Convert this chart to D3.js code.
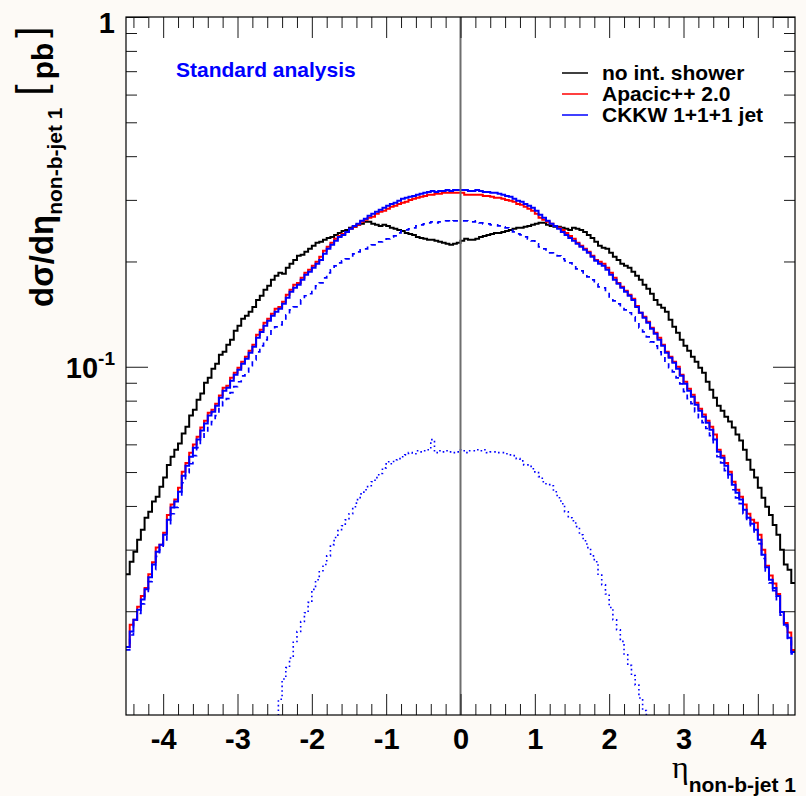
<!DOCTYPE html>
<html lang="en">
<head>
<meta charset="UTF-8">
<title>d&sigma;/d&eta; non-b-jet 1</title>
<script src="https://d3js.org/d3.v7.min.js"></script>
<style>
  body { margin: 0; background: #fdfaf6; }
  svg { display: block; font-family: "Liberation Sans", Arial, sans-serif; }
</style>
</head>
<body>
<script>
// 180 bins of width 0.05 between -4.5 and 4.5, values in pb
const etaMin = -4.5, etaMax = 4.5, binWidth = 0.05;
const yMin = 0.0101, yMax = 1;

const noShower = [
  .0255,.0277,.0296,.0320,.0342,.0370,.0385,.0412,.0425,.0454,
  .0482,.0524,.0553,.0579,.0603,.0644,.0674,.0725,.0754,.0805,
  .0838,.0900,.0930,.0987,.1020,.1082,.1103,.1155,.1194,.1267,
  .1309,.1372,.1399,.1436,.1483,.1553,.1596,.1660,.1704,.1772,
  .1820,.1856,.1844,.1918,.1969,.2021,.2076,.2089,.2131,.2174,
  .2217,.2261,.2276,.2306,.2336,.2351,.2382,.2414,.2446,.2462,
  .2496,.2512,.2545,.2562,.2596,.2596,.2562,.2545,.2528,.2545,
  .2528,.2496,.2479,.2462,.2446,.2414,.2398,.2382,.2351,.2336,
  .2321,.2306,.2306,.2291,.2276,.2261,.2246,.2232,.2246,.2261,
  .2291,.2321,.2306,.2306,.2321,.2351,.2367,.2382,.2398,.2414,
  .2414,.2430,.2446,.2462,.2479,.2496,.2496,.2512,.2528,.2545,
  .2562,.2579,.2579,.2545,.2528,.2512,.2512,.2496,.2479,.2462,
  .2496,.2479,.2462,.2430,.2382,.2336,.2276,.2217,.2188,.2174,
  .2117,.2062,.2021,.1969,.1943,.1918,.1868,.1820,.1772,.1715,
  .1670,.1617,.1553,.1503,.1474,.1436,.1362,.1301,.1250,.1194,
  .1148,.1111,.1068,.1033,.0994,.0961,.0906,.0860,.0816,.0774,
  .0749,.0720,.0697,.0670,.0640,.0615,.0579,.0542,.0508,.0482,
  .0451,.0422,.0398,.0377,.0353,.0331,.0300,.0272,.0263,.0241
];

const apacic = [
  .0158,.0183,.0189,.0206,.0221,.0233,.0255,.0276,.0304,.0310,
  .0335,.0377,.0404,.0417,.0451,.0501,.0531,.0568,.0599,.0631,
  .0670,.0701,.0739,.0754,.0784,.0827,.0871,.0883,.0930,.0961,
  .0994,.1033,.1068,.1111,.1155,.1234,.1275,.1335,.1372,.1417,
  .1464,.1483,.1533,.1606,.1660,.1715,.1737,.1796,.1856,.1893,
  .1943,.1995,.2062,.2145,.2202,.2261,.2321,.2367,.2398,.2430,
  .2479,.2512,.2545,.2596,.2630,.2666,.2684,.2737,.2773,.2792,
  .2828,.2865,.2884,.2922,.2942,.2961,.3000,.3020,.3040,.3060,
  .3080,.3101,.3101,.3121,.3121,.3142,.3142,.3142,.3142,.3142,
  .3142,.3101,.3101,.3101,.3101,.3101,.3080,.3080,.3060,.3040,
  .3040,.3020,.3000,.2981,.2961,.2922,.2903,.2865,.2828,.2792,
  .2737,.2666,.2630,.2596,.2562,.2528,.2496,.2462,.2414,.2367,
  .2321,.2261,.2217,.2174,.2131,.2076,.2021,.1995,.1969,.1918,
  .1856,.1796,.1737,.1692,.1649,.1606,.1565,.1493,.1427,.1390,
  .1344,.1292,.1250,.1210,.1155,.1103,.1068,.1033,.1000,.0948,
  .0906,.0865,.0832,.0789,.0759,.0730,.0701,.0674,.0640,.0579,
  .0557,.0531,.0501,.0469,.0445,.0425,.0404,.0380,.0365,.0358,
  .0331,.0300,.0270,.0253,.0240,.0224,.0199,.0185,.0174,.0155
];

const ckkw = [
  .0158,.0175,.0189,.0202,.0216,.0231,.0250,.0272,.0296,.0310,
  .0331,.0365,.0396,.0412,.0439,.0488,.0521,.0553,.0587,.0619,
  .0657,.0688,.0725,.0744,.0774,.0816,.0854,.0871,.0912,.0948,
  .0980,.1020,.1054,.1096,.1140,.1210,.1258,.1309,.1353,.1399,
  .1436,.1464,.1513,.1575,.1638,.1681,.1715,.1772,.1832,.1868,
  .1918,.1969,.2021,.2103,.2174,.2232,.2291,.2351,.2382,.2430,
  .2479,.2528,.2562,.2613,.2649,.2702,.2737,.2773,.2810,.2847,
  .2884,.2922,.2942,.2981,.3020,.3040,.3060,.3080,.3101,.3121,
  .3142,.3162,.3183,.3162,.3183,.3183,.3204,.3183,.3204,.3204,
  .3204,.3204,.3183,.3183,.3204,.3183,.3162,.3162,.3142,.3142,
  .3121,.3101,.3080,.3060,.3020,.2981,.2961,.2922,.2884,.2847,
  .2792,.2719,.2666,.2613,.2562,.2528,.2479,.2430,.2382,.2336,
  .2291,.2246,.2202,.2159,.2117,.2062,.2008,.1969,.1943,.1893,
  .1832,.1772,.1726,.1681,.1638,.1596,.1553,.1483,.1427,.1381,
  .1335,.1284,.1242,.1194,.1148,.1096,.1061,.1027,.0987,.0942,
  .0894,.0854,.0821,.0779,.0749,.0720,.0692,.0661,.0619,.0571,
  .0549,.0521,.0492,.0460,.0436,.0417,.0390,.0370,.0356,.0342,
  .0320,.0290,.0267,.0246,.0233,.0221,.0199,.0183,.0168,.0153
];

// CKKW parts: dashed and dotted contributions
const ckkwDashed = [
  .0155,.0171,.0185,.0197,.0210,.0225,.0243,.0263,.0287,.0300,
  .0320,.0353,.0380,.0396,.0422,.0466,.0498,.0528,.0557,.0587,
  .0623,.0648,.0683,.0697,.0725,.0764,.0795,.0811,.0843,.0877,
  .0906,.0942,.0967,.1007,.1047,.1103,.1148,.1194,.1226,.1267,
  .1301,.1318,.1353,.1408,.1455,.1483,.1503,.1553,.1596,.1617,
  .1660,.1704,.1737,.1796,.1856,.1893,.1943,.1982,.2008,.2035,
  .2076,.2103,.2131,.2159,.2174,.2217,.2232,.2261,.2276,.2291,
  .2321,.2351,.2367,.2414,.2446,.2462,.2479,.2496,.2528,.2545,
  .2562,.2579,.2596,.2579,.2596,.2596,.2613,.2596,.2613,.2613,
  .2613,.2613,.2596,.2596,.2613,.2579,.2562,.2562,.2545,.2545,
  .2528,.2512,.2496,.2479,.2430,.2398,.2382,.2351,.2321,.2291,
  .2246,.2202,.2174,.2145,.2117,.2103,.2076,.2035,.2008,.1982,
  .1943,.1905,.1881,.1844,.1808,.1772,.1726,.1692,.1681,.1638,
  .1585,.1543,.1513,.1483,.1455,.1427,.1390,.1335,.1292,.1258,
  .1218,.1178,.1148,.1103,.1068,.1027,.0994,.0967,.0930,.0894,
  .0849,.0811,.0784,.0744,.0715,.0692,.0666,.0635,.0599,.0553,
  .0531,.0505,.0475,.0445,.0422,.0406,.0380,.0360,.0346,.0333,
  .0312,.0283,.0261,.0241,.0229,.0216,.0195,.0181,.0166,.0151
];

// dotted part only filled from bin 40 (eta -2.5) to bin 140 (eta 2.55)
const dottedFirstBin = 40;
const ckkwDotted = [
  .0097,.0112,.0128,.0138,.0147,.0163,.0175,.0187,.0198,.0212,
  .0231,.0246,.0261,.0272,.0288,.0310,.0325,.0340,.0351,.0365,
  .0380,.0398,.0417,.0433,.0445,.0457,.0469,.0482,.0495,.0514,
  .0535,.0528,.0542,.0546,.0553,.0560,.0568,.0564,.0575,.0571,
  .0575,.0579,.0619,.0568,.0575,.0571,.0575,.0571,.0568,.0571,
  .0579,.0568,.0575,.0575,.0579,.0575,.0579,.0568,.0571,.0571,
  .0568,.0568,.0564,.0560,.0557,.0546,.0538,.0524,.0524,.0511,
  .0498,.0485,.0469,.0463,.0457,.0439,.0422,.0406,.0385,.0370,
  .0363,.0349,.0331,.0318,.0304,.0288,.0277,.0255,.0238,.0224,
  .0205,.0189,.0177,.0164,.0150,.0140,.0131,.0123,.0113,.0104,
  .0097
];

const legendLabels = ["no int. shower", "Apacic++ 2.0", "CKKW 1+1+1 jet"];
const xMajorTicks = [-4, -3, -2, -1, 0, 1, 2, 3, 4];
const yMajorTicks = [1, 0.1];

const W = 806, H = 796;
const margin = {top: 17, right: 11, bottom: 81, left: 126};
const w = W - margin.left - margin.right;
const h = H - margin.top - margin.bottom;

const svg = d3.select("body").append("svg").attr("width", W).attr("height", H);
svg.append("rect").attr("width", W).attr("height", H).attr("fill", "#fdfaf6");

const g = svg.append("g").attr("transform", `translate(${margin.left},${margin.top})`);
g.append("rect").attr("width", w).attr("height", h).attr("fill", "#fff");

const x = d3.scaleLinear().domain([etaMin, etaMax]).range([0, w]);
const y = d3.scaleLog().domain([yMin, yMax]).range([h, 0]);

g.append("clipPath").attr("id", "plotclip")
  .append("rect").attr("width", w).attr("height", h);

// histograms
const stepLine = d3.line()
  .x(d => x(d[0]))
  .y(d => y(d[1]))
  .curve(d3.curveStepAfter);

function histPoints(values, firstBin) {
  const pts = values.map((v, i) => [etaMin + (firstBin + i) * binWidth, v]);
  pts.push([etaMin + (firstBin + values.length) * binWidth, values[values.length - 1]]);
  return pts;
}

const series = [
  {values: noShower, first: 0, color: "#000000", width: 2, dash: null},
  {values: apacic, first: 0, color: "#ff0000", width: 2, dash: null},
  {values: ckkw, first: 0, color: "#0000ff", width: 2, dash: null},
  {values: ckkwDashed, first: 0, color: "#0000ff", width: 1.7, dash: "5,5"},
  {values: ckkwDotted, first: dottedFirstBin, color: "#0000ff", width: 1.6, dash: "1.6,3"}
];

const plot = g.append("g").attr("clip-path", "url(#plotclip)");
plot.selectAll("path.hist")
  .data(series)
  .join("path")
  .attr("class", "hist")
  .attr("d", d => stepLine(histPoints(d.values, d.first)))
  .attr("fill", "none")
  .attr("stroke", d => d.color)
  .attr("stroke-width", d => d.width)
  .attr("stroke-dasharray", d => d.dash);

// vertical line at eta = 0
g.append("line")
  .attr("x1", x(0)).attr("x2", x(0))
  .attr("y1", 0).attr("y2", h)
  .attr("stroke", "#6e6e6e")
  .attr("stroke-width", 2);

// axes (ROOT style: ticks inside on all four sides)
const xMinorTicks = d3.range(-44, 45, 2).map(d => d / 10).filter(d => !Number.isInteger(d));
const yMinorTicks = [];
[0.01, 0.1].forEach(dec => d3.range(2, 10).forEach(k => yMinorTicks.push(dec * k)));

function cleanAxis(sel) {
  sel.select(".domain").remove();
  sel.selectAll("line").attr("stroke", "#1a1a1a");
}

g.append("g").attr("transform", `translate(0,${h})`)
  .call(d3.axisBottom(x).tickValues(xMajorTicks).tickSize(-21).tickPadding(13).tickFormat(d => String(d)))
  .call(cleanAxis)
  .attr("font-family", "Liberation Sans, Arial, sans-serif")
  .attr("font-size", 29)
  .attr("font-weight", "bold")
  .selectAll("text").attr("fill", "#000");
g.append("g").attr("transform", `translate(0,${h})`)
  .call(d3.axisBottom(x).tickValues(xMinorTicks).tickSize(-11).tickFormat(""))
  .call(cleanAxis);
g.append("g")
  .call(d3.axisTop(x).tickValues(xMajorTicks).tickSize(-21).tickFormat(""))
  .call(cleanAxis);
g.append("g")
  .call(d3.axisTop(x).tickValues(xMinorTicks).tickSize(-11).tickFormat(""))
  .call(cleanAxis);

g.append("g")
  .call(d3.axisLeft(y).tickValues(yMajorTicks).tickSize(-22).tickFormat(""))
  .call(cleanAxis);
g.append("g")
  .call(d3.axisLeft(y).tickValues(yMinorTicks).tickSize(-11).tickFormat(""))
  .call(cleanAxis);
g.append("g").attr("transform", `translate(${w},0)`)
  .call(d3.axisRight(y).tickValues(yMajorTicks).tickSize(-22).tickFormat(""))
  .call(cleanAxis);
g.append("g").attr("transform", `translate(${w},0)`)
  .call(d3.axisRight(y).tickValues(yMinorTicks).tickSize(-11).tickFormat(""))
  .call(cleanAxis);

// y tick labels: 1 and 10^-1
const yLab = g.selectAll("text.ylab")
  .data(yMajorTicks)
  .join("text")
  .attr("class", "ylab")
  .attr("x", -11)
  .attr("y", d => Math.max(y(d) + 11, 16))
  .attr("text-anchor", "end")
  .attr("font-size", 29)
  .attr("font-weight", "bold");
yLab.each(function(d) {
  const t = d3.select(this);
  const exp = Math.round(Math.log10(d));
  if (exp === 0) {
    t.text("1");
  } else {
    t.append("tspan").text("10");
    t.append("tspan").attr("font-size", 19).attr("dy", -13).text(String(exp));
  }
});

// frame
g.append("rect")
  .attr("width", w).attr("height", h)
  .attr("fill", "none")
  .attr("stroke", "#000")
  .attr("stroke-width", 1.2);

// labels
g.append("text")
  .attr("x", 50).attr("y", 60)
  .attr("fill", "#0000ff")
  .attr("font-size", 21)
  .attr("font-weight", "bold")
  .text("Standard analysis");

const legend = g.append("g").attr("transform", "translate(436,56)");
const legendRows = legend.selectAll("g")
  .data(series.slice(0, 3))
  .join("g")
  .attr("transform", (d, i) => `translate(0,${i * 21})`);
legendRows.append("line")
  .attr("x1", 0).attr("x2", 26)
  .attr("stroke", d => d.color)
  .attr("stroke-width", 1.5);
legendRows.append("text")
  .attr("x", 40).attr("y", 6.5)
  .attr("font-size", 21)
  .attr("font-weight", "bold")
  .text((d, i) => legendLabels[i]);

// axis titles
const xTitle = svg.append("text")
  .attr("x", 796).attr("y", 778)
  .attr("text-anchor", "end");
xTitle.append("tspan")
  .attr("font-family", "Liberation Serif, serif")
  .attr("font-size", 32)
  .text("η");
xTitle.append("tspan")
  .attr("font-size", 21)
  .attr("font-weight", "bold")
  .attr("dy", 14)
  .text("non-b-jet 1");

const yTitle = svg.append("text")
  .attr("transform", "translate(53,307) rotate(-90)")
  .attr("font-weight", "bold");
yTitle.append("tspan").attr("font-size", 33).text("dσ/dη");
yTitle.append("tspan").attr("font-size", 21).attr("dy", 9).text("non-b-jet 1");
yTitle.append("tspan").attr("font-size", 40).attr("font-weight", "normal")
  .attr("dx", 12).attr("dy", -17).text("[");
yTitle.append("tspan").attr("font-size", 30).attr("dx", 5).attr("dy", 8).text("pb");
yTitle.append("tspan").attr("font-size", 40).attr("font-weight", "normal")
  .attr("dx", 5).attr("dy", -8).text("]");
</script>
</body>
</html>
